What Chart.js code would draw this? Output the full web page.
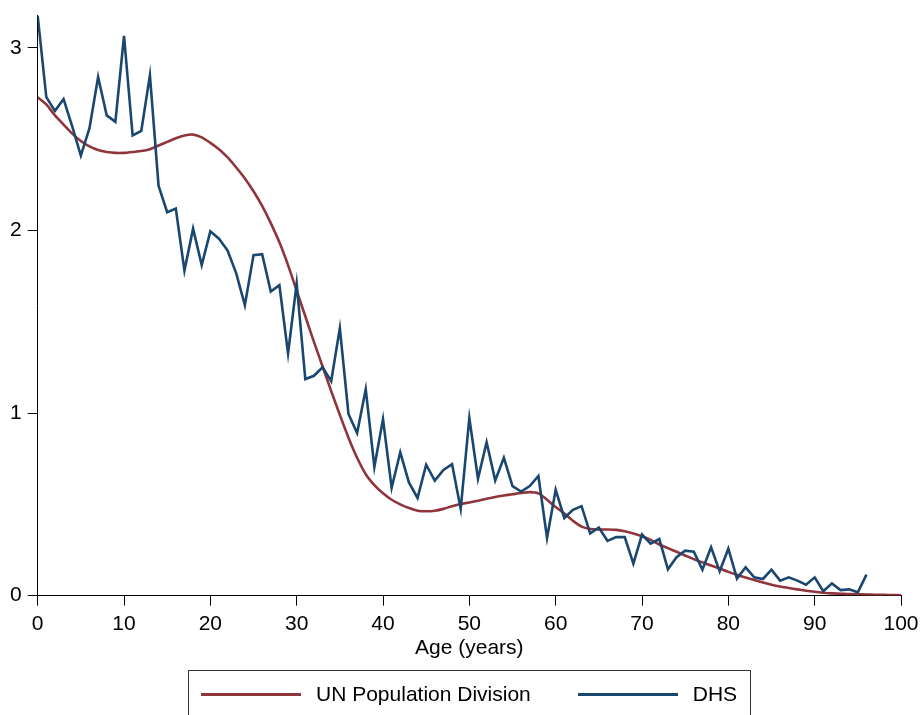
<!DOCTYPE html>
<html lang="en">

<head>
    <meta charset="UTF-8">
    <title>UN Population Division vs DHS</title>
    <script src="https://cdn.jsdelivr.net/npm/chart.js"></script>
    <style>
        body { margin: 0; overflow: hidden; background: #fff; font-family: "Liberation Sans", Arial, sans-serif; }
        #wrap { position: relative; width: 921px; height: 715px; overflow: hidden; }
        #legend {
            position: absolute; left: 188px; top: 670px; width: 563px; height: 60px;
            border: 1px solid #333; box-sizing: border-box;
            display: flex; align-items: flex-start; padding: 11px 0 0 12px;
            font-size: 21px; line-height: 24px; color: #000;
        }
        #legend .line { display: inline-block; width: 100px; height: 3px; margin-top: 11px; margin-right: 15px; }
        #legend .gap { width: 47px; }
    </style>
</head>

<body>
    <div id="wrap">
        <canvas id="ageChart" width="921" height="715"></canvas>
        <div id="legend"></div>
    </div>

    <script>
        // ages (years)
        var ages = [0, 1, 2, 3, 4, 5, 6, 7, 8, 9, 10, 11, 12, 13, 14, 15, 16, 17, 18, 19,
            20, 21, 22, 23, 24, 25, 26, 27, 28, 29, 30, 31, 32, 33, 34, 35, 36, 37, 38, 39,
            40, 41, 42, 43, 44, 45, 46, 47, 48, 49, 50, 51, 52, 53, 54, 55, 56, 57, 58, 59,
            60, 61, 62, 63, 64, 65, 66, 67, 68, 69, 70, 71, 72, 73, 74, 75, 76, 77, 78, 79,
            80, 81, 82, 83, 84, 85, 86, 87, 88, 89, 90, 91, 92, 93, 94, 95, 96, 97, 98, 99, 100];

        // UN Population Division (ages 0-100)
        var unValues = [2.73, 2.69, 2.63, 2.58, 2.53, 2.49, 2.46, 2.44, 2.43, 2.425,
            2.425, 2.43, 2.435, 2.445, 2.465, 2.485, 2.505, 2.52, 2.525, 2.51,
            2.48, 2.445, 2.40, 2.345, 2.285, 2.215, 2.135, 2.04, 1.935, 1.81,
            1.67, 1.53, 1.39, 1.255, 1.12, 0.99, 0.865, 0.755, 0.665, 0.605,
            0.56, 0.525, 0.50, 0.48, 0.465, 0.462, 0.465, 0.475, 0.49, 0.502,
            0.51, 0.52, 0.53, 0.54, 0.548, 0.555, 0.562, 0.567, 0.56, 0.525,
            0.485, 0.45, 0.41, 0.378, 0.365, 0.362, 0.362, 0.36, 0.352, 0.34,
            0.325, 0.305, 0.28, 0.26, 0.24, 0.22, 0.20, 0.182, 0.165, 0.148,
            0.13, 0.114, 0.099, 0.085, 0.072, 0.06, 0.05, 0.042, 0.034, 0.027,
            0.021, 0.016, 0.012, 0.01, 0.008, 0.007, 0.006, 0.005, 0.004, 0.003, 0.002];

        // DHS (ages 0-96)
        var dhsValues = [3.175, 2.73, 2.655, 2.72, 2.57, 2.41, 2.56, 2.84, 2.63, 2.595,
            3.066, 2.52, 2.545, 2.85, 2.245, 2.10, 2.12, 1.78, 2.01, 1.81,
            1.995, 1.955, 1.89, 1.765, 1.59, 1.865, 1.87, 1.665, 1.70, 1.326,
            1.71, 1.186, 1.204, 1.25, 1.175, 1.465, 0.995, 0.89, 1.13, 0.705,
            0.967, 0.59, 0.785, 0.62, 0.535, 0.717, 0.63, 0.688, 0.72, 0.475,
            0.973, 0.64, 0.84, 0.63, 0.755, 0.60, 0.57, 0.60, 0.655, 0.316,
            0.58, 0.425, 0.47, 0.49, 0.34, 0.373, 0.30, 0.32, 0.32, 0.175,
            0.334, 0.284, 0.31, 0.144, 0.21, 0.246, 0.24, 0.142, 0.265, 0.133,
            0.257, 0.093, 0.155, 0.10, 0.091, 0.142, 0.082, 0.10, 0.082, 0.06,
            0.10, 0.024, 0.067, 0.03, 0.034, 0.018, 0.115];

        var xTicks = [0, 10, 20, 30, 40, 50, 60, 70, 80, 90, 100];
        var yTicks = [0, 1, 2, 3];

        var red = '#90353b';
        var navy = '#1a476f';

        function toPoints(vals) {
            return vals.map(function (v, i) { return { x: ages[i], y: v }; });
        }

        Chart.defaults.font.family = '"Liberation Sans", Arial, sans-serif';
        Chart.defaults.font.size = 21;
        Chart.defaults.color = '#000';

        var ctx = document.getElementById('ageChart').getContext('2d');
        var chart = new Chart(ctx, {
            type: 'line',
            data: {
                datasets: [{
                    label: 'DHS',
                    data: toPoints(dhsValues),
                    borderColor: navy,
                    backgroundColor: navy,
                    borderWidth: 2.6,
                    pointRadius: 0,
                    tension: 0,
                    order: 0
                }, {
                    label: 'UN Population Division',
                    data: toPoints(unValues),
                    borderColor: red,
                    backgroundColor: red,
                    borderWidth: 2.6,
                    pointRadius: 0,
                    tension: 0.3,
                    order: 1
                }]
            },
            options: {
                responsive: false,
                animation: false,
                layout: { padding: { left: 4, right: 20, top: 15, bottom: 50 } },
                plugins: { legend: { display: false }, tooltip: { enabled: false } },
                scales: {
                    x: {
                        type: 'linear',
                        min: 0,
                        max: 100,
                        afterBuildTicks: function (axis) {
                            axis.ticks = xTicks.map(function (v) { return { value: v }; });
                        },
                        afterFit: function (axis) { axis.paddingRight = 0; axis.paddingLeft = 0; },
                        ticks: { padding: 6, maxRotation: 0 },
                        grid: { drawOnChartArea: false, tickLength: 10, color: '#000' },
                        border: { color: '#000', width: 1 },
                        title: { display: true, text: 'Age (years)', padding: { top: -7, bottom: 4 } }
                    },
                    y: {
                        min: 0,
                        max: 3.18,
                        afterBuildTicks: function (axis) {
                            axis.ticks = yTicks.map(function (v) { return { value: v }; });
                        },
                        afterFit: function (axis) { axis.paddingTop = 0; axis.paddingBottom = 0; },
                        ticks: { padding: 6 },
                        grid: { drawOnChartArea: false, tickLength: 10, color: '#000' },
                        border: { color: '#000', width: 1 }
                    }
                }
            }
        });

        // legend box below the plot
        var legend = document.getElementById('legend');
        [['UN Population Division', red], ['DHS', navy]].forEach(function (item, i) {
            if (i > 0) {
                var g = document.createElement('span');
                g.className = 'gap';
                legend.appendChild(g);
            }
            var l = document.createElement('span');
            l.className = 'line';
            l.style.background = item[1];
            legend.appendChild(l);
            var t = document.createElement('span');
            t.textContent = item[0];
            legend.appendChild(t);
        });
    </script>
</body>

</html>
